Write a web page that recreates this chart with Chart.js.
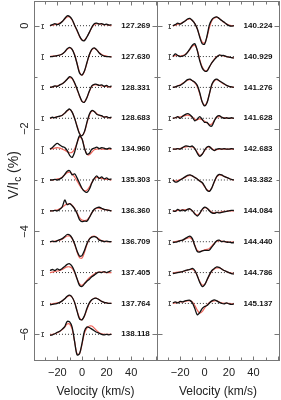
<!DOCTYPE html>
<html>
<head>
<meta charset="utf-8">
<script src="https://cdn.jsdelivr.net/npm/chart.js@4.4.0/dist/chart.umd.min.js"></script>
<style>
body{margin:0;background:#fff;}
#wrap{position:relative;width:281px;height:400px;overflow:hidden;}
canvas{position:absolute;top:0;}
</style>
</head>
<body>
<div id="wrap">
<canvas id="leftChart" width="158" height="400" style="left:0px"></canvas>
<canvas id="rightChart" width="125" height="400" style="left:156px"></canvas>
</div>
<script>
// velocity grid (km/s) shared by every profile
let vel = [-26,-24,-22,-20,-18,-16,-14,-12,-10,-8,-6,-4,-2,0,2,4,6,8,10,12,14,16,18,20,22,24];
let velTicks = [-20,0,20,40];
let yTicks = [0,-2,-4,-6];

// left column
let leftDates = ["127.269","127.630","128.331","128.683","134.960","135.303","136.360","136.709","137.405","137.764","138.118"];
let leftShift = [0,-0.6,-1.2,-1.8,-2.4,-3.0,-3.6,-4.2,-4.8,-5.4,-6.0];
let leftErr = [0.04,0.04,0.04,0.04,0.07,0.04,0.04,0.04,0.05,0.04,0.04];
let leftObs = [
[0,0.02,0.04,0.02,0.04,0.08,0.14,0.19,0.18,0.12,0.01,-0.09,-0.2,-0.28,-0.29,-0.22,-0.13,-0.03,0.04,0.05,0.03,0.04,0.02,0.03,0.01,0.02],
[0,0,0.01,0.02,0.03,0.05,0.09,0.15,0.18,0.14,0.03,-0.14,-0.32,-0.36,-0.28,-0.12,0.04,0.14,0.17,0.13,0.07,0.03,0.01,0,0,-0.01],
[0,0.01,0.03,0.02,0.05,0.07,0.11,0.16,0.21,0.18,0.09,-0.03,-0.16,-0.27,-0.29,-0.2,-0.07,0.03,0.06,0.06,0.04,0.05,0.02,0.04,0.01,0.03],
[0,0.02,0.01,0.03,0.04,0.06,0.1,0.15,0.18,0.12,0,-0.16,-0.3,-0.34,-0.26,-0.08,0.08,0.15,0.13,0.08,0.06,0.05,0.02,0.03,0.01,0.02],
[0,0.03,0.08,0.11,0.08,0.05,0.03,-0.03,-0.12,-0.16,-0.06,0.12,0.26,0.2,0.02,-0.1,-0.08,0,0.02,0.04,0.01,0.03,0.02,0,0.02,0.01],
[0,0,0.01,0,0.02,0.05,0.11,0.17,0.18,0.1,0.12,0.04,-0.06,-0.16,-0.22,-0.24,-0.18,-0.06,0.03,0.08,0.03,0.06,0.02,0.04,0.01,0.02],
[0,0,0.01,0,0.03,0.08,0.21,0.12,0.14,0.1,0.04,-0.05,-0.17,-0.21,-0.2,-0.2,-0.13,-0.04,0.03,0.06,0.07,0.05,0.03,0.02,0.01,0],
[0,0.01,0,0.02,0.04,0.06,0.1,0.14,0.13,0.07,-0.04,-0.18,-0.28,-0.27,-0.17,-0.04,0.05,0.09,0.1,0.08,0.03,0.02,0,0.01,0,0],
[0.04,0.06,0.04,0.07,0.05,0.08,0.12,0.16,0.17,0.12,0.02,-0.12,-0.25,-0.27,-0.22,-0.17,-0.13,-0.08,-0.05,-0.01,0.01,0,0.02,0,0.02,0.04],
[-0.03,-0.02,-0.01,0,0.02,0.05,0.09,0.14,0.16,0.12,0.02,-0.15,-0.3,-0.32,-0.24,-0.1,0.01,0.07,0.1,0.1,0.07,0.04,0.02,0.01,0,0],
[-0.02,-0.01,0.01,0.04,0.06,0.1,0.15,0.25,0.24,0.14,-0.14,-0.4,-0.38,-0.18,0.06,0.14,0.13,0.1,0.07,0.04,0.02,0,-0.01,0,-0.01,0]
];
let leftFit = [
[0,0.01,0.02,0.03,0.05,0.08,0.13,0.17,0.17,0.11,0.01,-0.1,-0.21,-0.28,-0.28,-0.22,-0.13,-0.04,0.02,0.04,0.04,0.03,0.02,0.02,0.01,0],
[0,0.01,0.01,0.02,0.03,0.05,0.09,0.14,0.17,0.14,0.04,-0.13,-0.3,-0.36,-0.29,-0.13,0.03,0.13,0.16,0.13,0.08,0.04,0.02,0.01,0,0],
[0,0.01,0.02,0.03,0.05,0.07,0.11,0.16,0.19,0.17,0.08,-0.04,-0.17,-0.27,-0.28,-0.2,-0.08,0.02,0.05,0.05,0.04,0.03,0.02,0.02,0.01,0.01],
[0,0.01,0.02,0.03,0.04,0.06,0.1,0.14,0.17,0.12,0,-0.15,-0.29,-0.34,-0.27,-0.1,0.06,0.14,0.13,0.09,0.06,0.04,0.03,0.02,0.01,0.01],
[0,0.01,0.02,0.03,0.02,0,-0.02,-0.05,-0.07,-0.06,0,0.12,0.23,0.2,0.03,-0.1,-0.11,-0.06,-0.01,0,0.01,0,0,0.01,0,0],
[0,0,0.01,0.02,0.03,0.06,0.1,0.14,0.15,0.12,0.06,-0.02,-0.1,-0.17,-0.21,-0.2,-0.14,-0.05,0.02,0.05,0.04,0.03,0.02,0.01,0.01,0],
[0,0,0.01,0.02,0.04,0.07,0.11,0.13,0.14,0.11,0.05,-0.04,-0.13,-0.18,-0.19,-0.18,-0.12,-0.04,0.02,0.05,0.05,0.04,0.03,0.02,0.01,0],
[0,0,0.01,0.02,0.03,0.05,0.08,0.11,0.11,0.06,-0.05,-0.2,-0.31,-0.32,-0.21,-0.06,0.05,0.1,0.11,0.08,0.05,0.02,0.01,0,0,0],
[0,0.01,0.02,0.03,0.04,0.06,0.09,0.11,0.11,0.08,0,-0.12,-0.22,-0.25,-0.21,-0.15,-0.1,-0.06,-0.03,0,0.01,0.01,0.01,0,0,0],
[-0.02,-0.01,0,0.01,0.02,0.05,0.09,0.13,0.15,0.12,0.02,-0.14,-0.28,-0.32,-0.25,-0.12,0,0.07,0.1,0.1,0.07,0.04,0.02,0.01,0,0],
[-0.01,0,0.01,0.03,0.06,0.09,0.14,0.2,0.2,0.1,-0.14,-0.38,-0.38,-0.2,0.02,0.12,0.16,0.16,0.12,0.07,0.03,0.01,0,0,0,0]
];

// right column
let rightDates = ["140.224","140.929","141.276","141.628","142.683","143.382","144.084","144.440","144.786","145.137"];
let rightShift = [0,-0.6,-1.2,-1.8,-2.4,-3.0,-3.6,-4.2,-4.8,-5.4];
let rightErr = [0.04,0.04,0.04,0.04,0.04,0.04,0.04,0.04,0.04,0.04];
let rightObs = [
[0,0.02,0.05,0.03,0.06,0.09,0.13,0.14,0.1,0.04,-0.06,-0.22,-0.35,-0.36,-0.2,0.02,0.12,0.16,0.17,0.14,0.1,0.07,0.03,0,-0.01,0],
[0,0.05,0.02,0,0.01,0.03,0.08,0.15,0.22,0.25,0.12,-0.08,-0.22,-0.28,-0.28,-0.2,-0.12,-0.06,-0.01,0.03,0.02,0.02,0,-0.01,-0.02,-0.03],
[0,0.01,0.03,0.04,0.07,0.11,0.15,0.16,0.13,0.1,0.04,-0.1,-0.28,-0.36,-0.3,-0.12,0.06,0.14,0.16,0.13,0.1,0.07,0.04,0.02,0.01,0],
[0,0.01,0.03,0,0.04,0.07,0.09,0.07,0.02,-0.05,-0.02,0.03,-0.02,-0.08,-0.08,-0.14,-0.15,-0.05,0.03,0.05,0.02,0,0.01,0,0.01,0],
[0,0,0.01,0,0.03,0.06,0.06,0.05,0.06,0.01,-0.08,-0.14,-0.1,-0.02,0.04,0.05,0,-0.03,0,0.01,0,0.01,0,0,0.01,0],
[0,-0.04,-0.03,0,0.03,0.06,0.09,0.1,0.08,0.05,0.02,-0.02,-0.05,-0.12,-0.2,-0.22,-0.15,-0.03,0.07,0.11,0.1,0.07,0.05,0.03,0.01,0],
[0,-0.01,0.03,0,0.02,0,0.03,0.04,0,-0.06,-0.1,-0.05,0.03,0.07,0.05,0,-0.04,-0.05,-0.03,-0.04,-0.03,-0.02,-0.01,0,0.01,0.01],
[-0.02,-0.01,0,0.02,0.03,0.06,0.09,0.11,0.06,-0.08,-0.19,-0.2,-0.18,-0.17,-0.17,-0.16,-0.1,-0.04,0.02,0.03,0,0.01,-0.01,-0.01,-0.02,-0.02],
[-0.02,-0.01,0,0.01,0.02,0.04,0.05,0.06,0.08,0.04,-0.06,-0.19,-0.27,-0.24,-0.14,-0.04,0.04,0.08,0.11,0.1,0.07,0.04,0.02,0,-0.02,-0.03],
[0.01,0.03,0.01,0.04,0.03,0.05,0.06,0.06,0.01,-0.1,-0.22,-0.18,-0.1,-0.06,-0.04,0.01,0.05,0.07,0.05,0.02,0,-0.01,0.01,-0.01,-0.02,-0.01]
];
let rightFit = [
[0,0.01,0.03,0.04,0.06,0.09,0.12,0.13,0.1,0.04,-0.06,-0.2,-0.32,-0.34,-0.22,-0.03,0.1,0.15,0.16,0.14,0.1,0.06,0.03,0.01,0,0],
[0,0.02,0.02,0.01,0.02,0.04,0.08,0.14,0.2,0.22,0.13,-0.06,-0.2,-0.27,-0.27,-0.2,-0.12,-0.05,0,0.02,0.02,0.01,0,-0.01,-0.02,-0.02],
[0,0.01,0.03,0.05,0.08,0.11,0.14,0.15,0.13,0.09,0.02,-0.12,-0.28,-0.35,-0.29,-0.12,0.05,0.13,0.15,0.13,0.09,0.06,0.04,0.02,0.01,0],
[0,0.01,0.02,0.03,0.04,0.05,0.06,0.05,0.02,-0.02,-0.03,-0.01,-0.03,-0.06,-0.09,-0.12,-0.11,-0.04,0.02,0.03,0.02,0.01,0,0,0,0],
[0,0,0.01,0.01,0.03,0.04,0.05,0.05,0.04,0.01,-0.06,-0.12,-0.1,-0.03,0.03,0.04,0.01,-0.02,-0.01,0,0,0,0,0,0,0],
[0,-0.02,-0.01,0.01,0.03,0.05,0.08,0.09,0.08,0.05,0.02,-0.02,-0.06,-0.13,-0.19,-0.21,-0.15,-0.04,0.06,0.1,0.09,0.07,0.05,0.03,0.01,0],
[0,0,0.01,0.01,0.02,0.02,0.03,0.03,0,-0.05,-0.08,-0.05,0.02,0.06,0.05,0.01,-0.03,-0.04,-0.03,-0.03,-0.02,-0.01,-0.01,0,0,0],
[-0.01,0,0.01,0.02,0.03,0.05,0.07,0.08,0.04,-0.07,-0.17,-0.19,-0.18,-0.16,-0.15,-0.13,-0.08,-0.03,0.01,0.02,0.01,0,0,-0.01,-0.01,-0.01],
[-0.01,0,0.01,0.01,0.02,0.03,0.05,0.06,0.06,0.03,-0.06,-0.17,-0.24,-0.23,-0.15,-0.05,0.03,0.07,0.09,0.09,0.07,0.04,0.02,0,-0.01,-0.02],
[0,0.01,0.02,0.03,0.03,0.04,0.05,0.05,0.03,-0.04,-0.13,-0.19,-0.16,-0.09,-0.03,0.02,0.04,0.05,0.05,0.03,0.01,0,0,0,-0.01,-0.01]
];

let baseFrom = -26, baseTo = 25;  // dotted zero line
let labelVel = 32;                // where the date is written

function buildSets(obs, fit, shift){
  let sets = [];
  obs.forEach(function(row, i){
    sets.push({
      data: vel.map(function(v,k){ return {x:v, y:row[k]+shift[i]}; }),
      borderColor:"#111", borderWidth:1.3, order:0
    });
    sets.push({
      data: vel.map(function(v,k){ return {x:v, y:fit[i][k]+shift[i]}; }),
      borderColor:"#f0645a", borderWidth:1.2, order:1
    });
    sets.push({
      data: [{x:baseFrom, y:shift[i]}, {x:baseTo, y:shift[i]}],
      borderColor:"#333", borderWidth:1, borderDash:[1,2], tension:0, order:2
    });
  });
  return sets;
}

// frame, inward ticks, dates and error bars
function framePlugin(dates, shift, err, errVel, isLeft){
  return {
    id:"frame",
    afterDraw: function(chart){
      let ctx = chart.ctx;
      let ca = chart.chartArea;
      let xs = chart.scales.x, ys = chart.scales.y;
      let L = Math.round(ca.left)+0.5, R = Math.round(ca.right)+0.5;
      let T = Math.round(ca.top)+0.5, B = Math.round(ca.bottom)+0.5;
      ctx.save();
      ctx.strokeStyle = "#777";
      ctx.lineWidth = 1;
      ctx.strokeRect(L, T, R-L, B-T);

      ctx.beginPath();
      for(let v=-30; v<=60; v+=10){
        let px = Math.round(xs.getPixelForValue(v))+0.5;
        let len = (v%20===0) ? 4 : 3;
        ctx.moveTo(px, B); ctx.lineTo(px, B-len);
        ctx.moveTo(px, T); ctx.lineTo(px, T+len);
      }
      for(let y=0; y>=-6; y--){
        let py = Math.round(ys.getPixelForValue(y))+0.5;
        let len = (y%2===0) ? 5 : 3;
        ctx.moveTo(L, py); ctx.lineTo(L+len, py);
        ctx.moveTo(R, py); ctx.lineTo(R-len, py);
      }
      ctx.stroke();

      // error bars
      ctx.strokeStyle = "#555";
      ctx.beginPath();
      shift.forEach(function(s, i){
        let px = Math.round(xs.getPixelForValue(errVel))+0.5;
        let y1 = Math.round(ys.getPixelForValue(s+err[i]))+0.5;
        let y2 = Math.round(ys.getPixelForValue(s-err[i]))+0.5;
        ctx.moveTo(px, y1); ctx.lineTo(px, y2);
        ctx.moveTo(px-1, y1); ctx.lineTo(px+1.5, y1);
        ctx.moveTo(px-1, y2); ctx.lineTo(px+1.5, y2);
      });
      ctx.stroke();

      // dates
      ctx.fillStyle = "#111";
      ctx.font = "bold 8px 'Liberation Sans', Arial, sans-serif";
      ctx.textBaseline = "middle";
      ctx.textAlign = "left";
      dates.forEach(function(d, i){
        ctx.fillText(d, xs.getPixelForValue(labelVel), ys.getPixelForValue(shift[i]));
      });

      // x title
      ctx.font = "12px 'Liberation Sans', Arial, sans-serif";
      ctx.textAlign = "center";
      ctx.fillStyle = "#222";
      ctx.fillText("Velocity (km/s)", (ca.left+ca.right)/2, 392);

      if(isLeft){
        // rotated y tick labels
        ctx.font = "11px 'Liberation Sans', Arial, sans-serif";
        yTicks.forEach(function(t){
          ctx.save();
          ctx.translate(25, ys.getPixelForValue(t));
          ctx.rotate(-Math.PI/2);
          ctx.textAlign = "center";
          ctx.fillText(t===0 ? "0" : "\u2212"+Math.abs(t), 0, 0);
          ctx.restore();
        });
        // y title V/Ic (%)
        ctx.save();
        ctx.translate(14, 175);
        ctx.rotate(-Math.PI/2);
        let big = "14px 'Liberation Sans', Arial, sans-serif";
        let small = "10px 'Liberation Sans', Arial, sans-serif";
        ctx.font = big;
        let w1 = ctx.measureText("V/I").width;
        let w3 = ctx.measureText(" (%)").width;
        ctx.font = small;
        let w2 = ctx.measureText("c").width;
        let x0 = -(w1+w2+w3)/2;
        ctx.textAlign = "left";
        ctx.font = big;
        ctx.fillText("V/I", x0, 0);
        ctx.font = small;
        ctx.fillText("c", x0+w1, 4);
        ctx.font = big;
        ctx.fillText(" (%)", x0+w1+w2, 0);
        ctx.restore();
      }
      ctx.restore();
    }
  };
}

function makeChart(id, obs, fit, dates, shift, err, errVel, isLeft){
  new Chart(document.getElementById(id), {
    type:"line",
    data:{ datasets: buildSets(obs, fit, shift) },
    options:{
      responsive:false,
      animation:false,
      devicePixelRatio:1,
      layout:{ padding: isLeft ? {left:34, right:1, top:1, bottom:0} : {left:1, right:2, top:1, bottom:0} },
      elements:{ point:{radius:0}, line:{tension:0.3, fill:false} },
      plugins:{ legend:{display:false}, tooltip:{enabled:false} },
      scales:{
        x:{
          type:"linear", min:-39, max:61,
          grid:{display:false, drawTicks:false},
          border:{display:false},
          afterBuildTicks: function(s){ s.ticks = velTicks.map(function(v){ return {value:v}; }); },
          afterFit: function(s){ s.height = 40; },
          ticks:{
            padding:6, color:"#222",
            font:{family:"'Liberation Sans', Arial, sans-serif", size:11},
            callback: function(v){ return v<0 ? "\u2212"+Math.abs(v) : String(v); }
          }
        },
        y:{ type:"linear", min:-6.5, max:0.48, display:false }
      }
    },
    plugins:[framePlugin(dates, shift, err, errVel, isLeft)]
  });
}

makeChart("leftChart", leftObs, leftFit, leftDates, leftShift, leftErr, -32.5, true);
makeChart("rightChart", rightObs, rightFit, rightDates, rightShift, rightErr, -29, false);
</script>
</body>
</html>
